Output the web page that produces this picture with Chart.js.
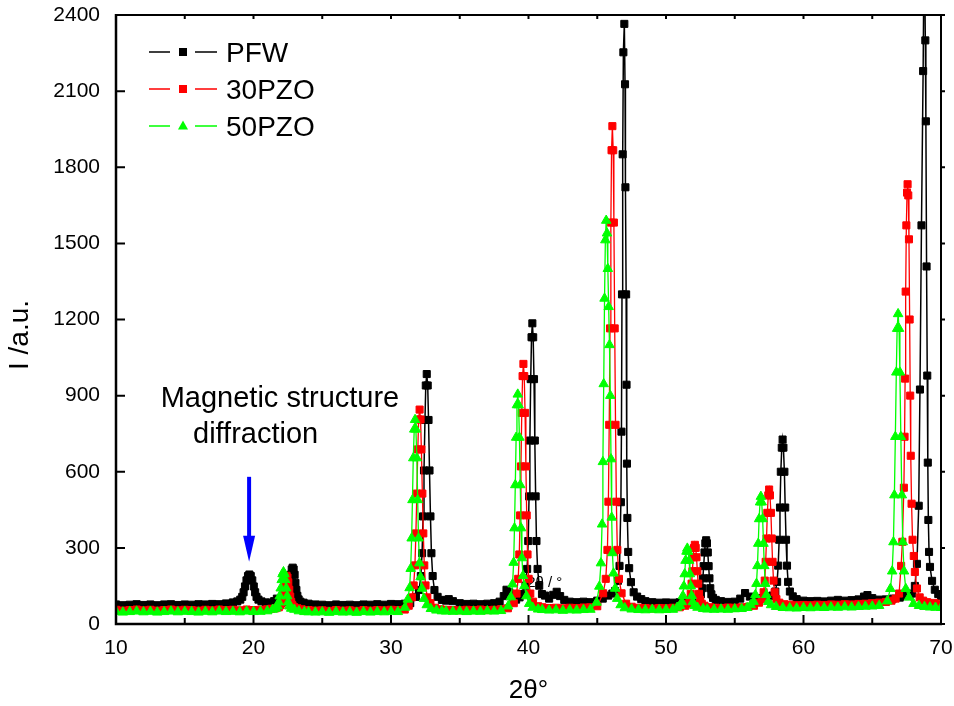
<!DOCTYPE html>
<html>
<head>
<meta charset="utf-8">
<script src="https://cdn.jsdelivr.net/npm/chart.js@4.4.1/dist/chart.umd.min.js"></script>
<style>
  html, body { margin: 0; padding: 0; background: #fff; }
  canvas { display: block; }
</style>
</head>
<body>
<canvas id="xrd" width="954" height="706"></canvas>
<script>
const FONT = "'Liberation Sans', Arial, Helvetica, sans-serif";

// axis ranges / ticks
const xRange = [10, 70];
const yRange = [0, 2400];
const xStep = 10;
const yStep = 300;

const seriesNames = ['PFW', '30PZO', '50PZO'];
const seriesColors = ['#000000', '#ff0000', '#00ff00'];
const seriesMarkers = ['rect', 'rect', 'triangle'];

// [2theta, intensity]
const pfw = [
  [10,77],[10.5,74],[11,76],[11.5,78],[12,75],[12.5,77],[13,74],[13.5,77],[14,78],[14.5,75],[15,77],[15.5,76],[16,78],[16.5,77],[17,79],[17.5,78],[18,81],
  [18.5,85],[18.82,89],[19.04,96],[19.18,107],[19.28,125],[19.38,148],[19.49,172],[19.6,189],[19.7,195],[19.8,189],[19.91,172],[20.02,148],[20.12,125],[20.22,107],[20.36,96],[20.58,89],[20.9,85],
  [21.2,84],[21.5,90],[21.7,100],[21.9,94],[22.06,84],[22.29,88],[22.42,97],[22.51,111],[22.58,134],[22.65,162],[22.71,194],[22.78,215],[22.85,222],[22.92,215],[22.99,194],[23.05,162],[23.12,134],[23.19,111],[23.28,97],[23.41,88],[23.64,84],
  [24,80],[24.5,77],[25,76],[25.5,74],[26,77],[26.5,75],[27,76],[27.5,74],[28,77],[28.5,76],[29,78],[29.5,76],[30,79],[30.5,78],[31,80],[31.4,82],
  [31.81,107],[32.04,134],[32.17,189],[32.26,279],[32.33,424],[32.4,605],[32.47,804],[32.53,940],[32.6,985],[32.67,940],[32.73,804],[32.8,605],[32.87,424],[32.94,279],[33.03,189],[33.16,134],[33.39,107],
  [33.7,95],[34,92],[34.2,98],[34.5,90],[35,82],[35.5,79],[36,80],[36.5,78],[37,80],[37.5,82],[37.9,88],[38.2,110],[38.4,135],[38.6,125],[38.85,102],[39.1,96],[39.35,105],
  [39.58,118],[39.78,151],[39.9,217],[39.98,327],[40.04,503],[40.1,723],[40.16,965],[40.22,1130],[40.28,1185],[40.34,1130],[40.4,965],[40.46,723],[40.52,503],[40.58,327],[40.66,217],[40.78,151],[40.98,118],
  [41.2,112],[41.5,100],[41.8,115],[42.05,127],[42.3,110],[42.6,95],[43,88],[43.5,86],[44,88],[44.5,86],[45,92],[45.4,100],[45.8,112],[46.1,120],
  [46.3,130],[46.5,170],[46.62,229],[46.72,480],[46.76,758],[46.8,1299],[46.85,1851],[46.9,2253],[46.97,2365],[47.02,2127],[47.05,1721],[47.1,1299],[47.13,943],[47.16,632],[47.19,418],[47.25,284],[47.32,220],[47.45,165],[47.65,125],
  [47.9,108],[48.2,98],[48.5,90],[49,86],[49.5,84],[50,85],[50.5,84],[51,86],[51.5,89],[51.9,92],
  [52.22,95],[52.42,103],[52.54,117],[52.62,141],[52.68,180],[52.74,228],[52.8,282],[52.86,318],[52.92,330],[52.98,318],[53.04,282],[53.1,228],[53.16,180],[53.22,141],[53.3,117],[53.42,103],[53.62,95],
  [54,90],[54.5,87],[55,88],[55.4,100],[55.75,122],[56.1,108],[56.5,100],[56.9,102],[57.3,106],[57.55,110],
  [57.74,112],[57.95,128],[58.08,166],[58.16,230],[58.23,332],[58.29,459],[58.35,600],[58.42,695],[58.48,727],[58.54,695],[58.61,600],[58.67,459],[58.73,332],[58.8,230],[58.88,166],[59.01,128],[59.22,109],
  [59.5,98],[60,92],[60.5,90],[61,91],[61.5,89],[62,92],[62.5,95],[63,92],[63.5,94],[64,97],[64.4,108],[64.65,114],[65,102],[65.5,96],[66,97],[66.5,100],[67,104],[67.4,110],[67.7,115],
  [67.9,120],[68.1,150],[68.25,237],[68.38,466],[68.47,924],[68.58,1571],[68.7,2179],[68.78,2750],[68.86,2300],[68.9,1981],[68.95,1409],[69,979],[69.04,636],[69.08,410],[69.13,284],[69.2,225],[69.35,170],[69.55,135],[69.8,118],[70,110]
];

const pzo30 = [
  [10,56],[10.5,53],[11,55],[11.5,57],[12,54],[12.5,56],[13,53],[13.5,55],[14,57],[14.5,54],[15,56],[15.5,55],[16,53],[16.5,56],[17,54],[17.5,57],[18,55],[18.5,56],[19,54],[19.5,57],[20,55],[20.5,56],[21,58],[21.3,60],
  [21.61,62],[21.84,66],[21.97,74],[22.06,87],[22.13,108],[22.2,135],[22.27,164],[22.33,183],[22.4,190],[22.47,183],[22.53,164],[22.6,135],[22.67,108],[22.74,87],[22.83,74],[22.96,66],[23.19,62],
  [23.5,58],[24,55],[24.5,53],[25,54],[25.5,52],[26,55],[26.5,53],[27,54],[27.5,52],[28,55],[28.5,53],[29,55],[29.5,54],[30,56],[30.5,55],[31,57],
  [31.29,72],[31.52,105],[31.65,152],[31.74,231],[31.81,357],[31.88,514],[31.95,688],[32.01,806],[32.08,845],[32.15,806],[32.21,688],[32.28,514],[32.35,357],[32.42,231],[32.51,152],[32.64,105],[32.87,82],
  [33.2,64],[33.6,58],[34,56],[34.5,55],[35,54],[35.5,56],[36,55],[36.5,57],[37,55],[37.5,56],[38,58],[38.5,62],
  [38.93,82],[39.13,120],[39.25,178],[39.33,274],[39.39,428],[39.45,621],[39.51,832],[39.57,977],[39.63,1025],[39.69,977],[39.75,832],[39.81,621],[39.87,428],[39.93,274],[40.01,178],[40.13,120],[40.33,88],
  [40.7,70],[41,66],[41.5,63],[42,64],[42.5,62],[43,64],[43.5,63],[44,65],[44.5,66],[45,70],
  [45.43,121],[45.62,178],[45.74,292],[45.81,482],[45.87,785],[45.93,1165],[45.99,1582],[46.04,1867],[46.1,1962],[46.16,1867],[46.21,1582],[46.27,1165],[46.33,785],[46.39,482],[46.46,292],[46.58,178],[46.77,121],
  [47.1,80],[47.5,68],[48,64],[48.5,63],[49,61],[49.5,63],[50,62],[50.5,64],[51,66],
  [51.4,72],[51.6,80],[51.72,95],[51.8,119],[51.86,159],[51.92,208],[51.98,263],[52.04,300],[52.1,312],[52.16,300],[52.22,263],[52.28,208],[52.34,159],[52.4,119],[52.48,95],[52.6,80],[52.8,72],
  [53.2,66],[53.6,64],[54,63],[54.5,65],[55,64],[55.5,66],[56,68],[56.4,72],
  [56.76,84],[56.97,98],[57.1,125],[57.18,171],[57.25,245],[57.31,337],[57.37,438],[57.44,507],[57.5,530],[57.56,507],[57.63,438],[57.69,337],[57.75,245],[57.82,171],[57.9,125],[58.03,98],[58.24,84],
  [58.6,78],[59,76],[59.5,74],[60,75],[60.5,74],[61,76],[61.5,75],[62,77],[62.5,76],[63,78],[63.5,77],[64,79],[64.5,80],[65,82],[65.5,84],[66,87],[66.4,92],[66.7,100],[66.95,120],
  [67.1,229],[67.19,324],[67.3,537],[67.35,738],[67.39,967],[67.43,1310],[67.48,1571],[67.53,1700],[67.57,1733],[67.62,1689],[67.67,1516],[67.72,1200],[67.76,900],[67.8,663],[67.86,474],[67.93,332],[68.02,268],[68.1,205],[68.25,140],[68.45,105],[68.7,92],[69,86],[69.5,83],[70,80]
];

const pzo50 = [
  [10,49],[10.5,46],[11,48],[11.5,50],[12,47],[12.5,49],[13,46],[13.5,48],[14,50],[14.5,47],[15,49],[15.5,48],[16,46],[16.5,49],[17,47],[17.5,50],[18,48],[18.5,49],[19,47],[19.5,50],[20,48],[20.5,49],[21,51],
  [21.39,57],[21.62,61],[21.75,70],[21.84,86],[21.91,110],[21.98,141],[22.05,174],[22.11,197],[22.18,205],[22.25,197],[22.31,174],[22.38,141],[22.45,110],[22.52,86],[22.61,70],[22.74,61],[22.97,57],
  [23.3,51],[23.7,48],[24,47],[24.5,46],[25,47],[25.5,45],[26,48],[26.5,46],[27,47],[27.5,45],[28,48],[28.5,46],[29,48],[29.5,47],[30,49],[30.5,48],
  [31.01,65],[31.22,97],[31.35,142],[31.43,218],[31.5,338],[31.56,489],[31.62,654],[31.69,767],[31.75,805],[31.81,767],[31.88,654],[31.94,489],[32,338],[32.07,240],[32.15,185],[32.25,140],[32.4,100],[32.6,75],[32.9,60],
  [33.3,54],[33.7,51],[34,50],[34.5,49],[35,50],[35.5,48],[36,50],[36.5,49],[37,51],[37.5,50],[38,52],
  [38.52,70],[38.72,106],[38.84,157],[38.92,242],[38.98,378],[39.04,548],[39.1,735],[39.16,863],[39.22,905],[39.28,863],[39.34,735],[39.4,548],[39.46,378],[39.52,260],[39.6,190],[39.7,150],[39.85,110],[40.05,80],[40.3,65],
  [40.7,58],[41,56],[41.5,54],[42,55],[42.5,53],[43,55],[43.5,54],[44,56],[44.5,57],
  [44.95,85],[45.15,148],[45.27,240],[45.35,393],[45.41,639],[45.47,946],[45.53,1283],[45.59,1513],[45.65,1590],[45.71,1540],[45.77,1400],[45.83,1250],[45.89,1100],[45.95,900],[46,650],[46.05,420],[46.1,280],[46.18,200],[46.3,140],[46.45,100],[46.7,75],[47,63],
  [47.5,58],[48,56],[48.5,55],[49,57],[49.5,55],[50,56],[50.5,57],
  [50.81,65],[51.02,72],[51.15,87],[51.23,111],[51.3,149],[51.36,197],[51.42,250],[51.49,286],[51.55,298],[51.61,286],[51.68,250],[51.74,197],[51.8,149],[51.87,111],[51.95,87],[52.08,72],[52.29,65],
  [52.7,60],[53,58],[53.5,57],[54,58],[54.5,57],[55,59],[55.5,60],[55.9,64],
  [56.16,75],[56.37,88],[56.5,115],[56.58,159],[56.65,229],[56.71,317],[56.77,414],[56.84,480],[56.9,502],[56.96,480],[57.03,414],[57.09,317],[57.15,229],[57.22,159],[57.3,115],[57.43,88],[57.64,75],
  [58,68],[58.5,64],[59,63],[59.5,62],[60,64],[60.5,63],[61,65],[61.5,64],[62,66],[62.5,65],[63,67],[63.5,66],[64,68],[64.5,69],[65,70],[65.5,72],
  [66.09,90],[66.32,139],[66.45,208],[66.54,323],[66.61,508],[66.68,738],[66.75,992],[66.81,1164],[66.88,1222],[66.95,1164],[67.01,992],[67.08,738],[67.15,508],[67.22,323],[67.31,208],[67.44,139],[67.67,105],
  [68,80],[68.4,72],[68.8,68],[69.2,66],[69.6,65],[70,64]
];

// annotations (data units)
const noteText = ['Magnetic structure', 'diffraction'];
const notePos = [[13.25, 856], [15.6, 714]];
const arrowAt = 19.68;
const arrowFrom = 580;
const arrowTo = 245;
const stray = { text: '2θ / °', x: 39.9, y: 146 };

const toPoints = arr => arr.map(([x, y]) => ({ x, y }));

function marker(ctx, style, x, y, color) {
  ctx.fillStyle = color;
  ctx.beginPath();
  if (style === 'triangle') {
    ctx.moveTo(x, y - 5.5);
    ctx.lineTo(x + 5, y + 3.5);
    ctx.lineTo(x - 5, y + 3.5);
    ctx.closePath();
  } else {
    ctx.rect(x - 4, y - 4, 8, 8);
  }
  ctx.fill();
}

const decorations = {
  id: 'decorations',
  beforeDatasetsDraw(chart) {
    const { ctx, scales: { x, y } } = chart;
    ctx.save();
    ctx.font = '15px ' + FONT;
    ctx.fillStyle = '#000';
    ctx.fillText(stray.text, x.getPixelForValue(stray.x), y.getPixelForValue(stray.y));
    ctx.restore();
  },
  afterDraw(chart) {
    const { ctx, chartArea: a, scales: { x, y } } = chart;
    ctx.save();
    ctx.strokeStyle = '#000';
    ctx.lineCap = 'butt';

    // frame
    ctx.lineWidth = 2;
    ctx.beginPath();
    ctx.moveTo(a.left, a.top); ctx.lineTo(a.right, a.top);
    ctx.moveTo(a.right, a.top); ctx.lineTo(a.right, a.bottom);
    ctx.stroke();
    ctx.lineWidth = 2.5;
    ctx.beginPath();
    ctx.moveTo(a.left, a.top - 1); ctx.lineTo(a.left, a.bottom);
    ctx.lineTo(a.right + 1, a.bottom);
    ctx.stroke();

    // ticks
    ctx.lineWidth = 2;
    ctx.beginPath();
    for (let v = xRange[0]; v <= xRange[1]; v += xStep / 2) {
      const px = x.getPixelForValue(v);
      const major = (v - xRange[0]) % xStep === 0;
      ctx.moveTo(px, a.bottom); ctx.lineTo(px, a.bottom - (major ? 9 : 6));
      ctx.moveTo(px, a.top); ctx.lineTo(px, a.top + 4);
    }
    for (let v = yRange[0]; v <= yRange[1]; v += yStep) {
      const py = y.getPixelForValue(v);
      ctx.moveTo(a.left, py); ctx.lineTo(a.left + 9, py);
      ctx.moveTo(a.right, py); ctx.lineTo(a.right + 4, py);
    }
    ctx.stroke();

    // y title
    ctx.save();
    ctx.translate(20, 335);
    ctx.rotate(-Math.PI / 2);
    ctx.font = '28px ' + FONT;
    ctx.fillStyle = '#000';
    ctx.textAlign = 'center';
    ctx.textBaseline = 'middle';
    ctx.fillText('I /a.u.', 0, 0);
    ctx.restore();

    // legend
    ctx.font = '28px ' + FONT;
    seriesNames.forEach((name, i) => {
      const cy = a.top + 37 + i * 37;
      const c = seriesColors[i];
      ctx.strokeStyle = c;
      ctx.lineWidth = 1.3;
      ctx.beginPath();
      ctx.moveTo(a.left + 33, cy); ctx.lineTo(a.left + 54, cy);
      ctx.moveTo(a.left + 79, cy); ctx.lineTo(a.left + 101, cy);
      ctx.stroke();
      marker(ctx, seriesMarkers[i], a.left + 67, cy, c);
      ctx.fillStyle = '#000';
      ctx.fillText(name, a.left + 110, cy + 10);
    });

    // annotation
    ctx.font = '29px ' + FONT;
    ctx.fillStyle = '#000';
    noteText.forEach((t, i) => {
      ctx.fillText(t, x.getPixelForValue(notePos[i][0]), y.getPixelForValue(notePos[i][1]));
    });

    // arrow
    const ax = x.getPixelForValue(arrowAt);
    const y0 = y.getPixelForValue(arrowFrom);
    const y1 = y.getPixelForValue(arrowTo);
    ctx.strokeStyle = '#0000ff';
    ctx.fillStyle = '#0000ff';
    ctx.lineWidth = 4;
    ctx.beginPath();
    ctx.moveTo(ax, y0); ctx.lineTo(ax, y1 - 24);
    ctx.stroke();
    ctx.beginPath();
    ctx.moveTo(ax - 6, y1 - 26);
    ctx.lineTo(ax + 6, y1 - 26);
    ctx.lineTo(ax, y1);
    ctx.closePath();
    ctx.fill();

    ctx.restore();
  }
};

Chart.defaults.color = '#000';
Chart.defaults.font.family = FONT;

const seriesData = [pfw, pzo30, pzo50];

new Chart(document.getElementById('xrd').getContext('2d'), {
  type: 'scatter',
  data: {
    datasets: seriesData.map((d, i) => ({
      label: seriesNames[i],
      data: toPoints(d),
      showLine: true,
      borderColor: seriesColors[i],
      backgroundColor: seriesColors[i],
      borderWidth: i === 0 ? 1.5 : 1.3,
      pointStyle: seriesMarkers[i],
      pointRadius: i === 2 ? 5.5 : 5,
      pointBorderWidth: 1,
      pointBorderColor: seriesColors[i],
      pointBackgroundColor: seriesColors[i],
      order: 3 - i
    }))
  },
  options: {
    responsive: false,
    animation: false,
    events: [],
    devicePixelRatio: 1,
    layout: { padding: { top: 15, right: 13, left: 0, bottom: 0 } },
    plugins: {
      legend: { display: false },
      tooltip: { enabled: false }
    },
    scales: {
      x: {
        type: 'linear',
        min: xRange[0],
        max: xRange[1],
        grid: { display: false, drawTicks: false },
        border: { display: false },
        ticks: { stepSize: xStep, padding: 12, font: { size: 21 }, color: '#000', callback: v => String(v) },
        title: { display: true, text: '2θ°', font: { size: 26 }, color: '#000', padding: { top: 0, bottom: 0 } },
        afterFit: s => { s.height = 82; s.paddingLeft = 0; s.paddingRight = 0; }
      },
      y: {
        min: yRange[0],
        max: yRange[1],
        grid: { display: false, drawTicks: false },
        border: { display: false },
        ticks: { stepSize: yStep, padding: 16, font: { size: 21 }, color: '#000', callback: v => String(v) },
        afterFit: s => { s.width = 116; s.paddingTop = 0; s.paddingBottom = 0; }
      }
    }
  },
  plugins: [decorations]
});
</script>
</body>
</html>
